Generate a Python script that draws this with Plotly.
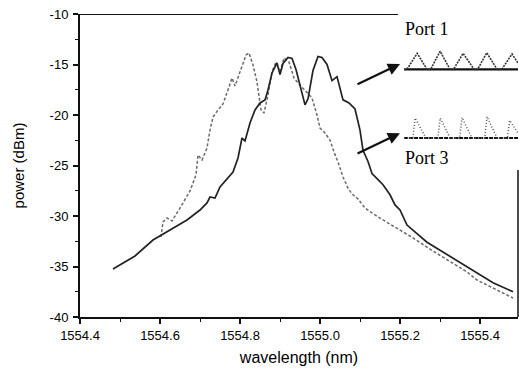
import plotly.graph_objects as go

# Spectrum traced from the two output ports (wavelength in nm, power in dBm)
solid_wl = [1554.4825, 1554.5, 1554.5375, 1554.5825, 1554.625, 1554.6675, 1554.70, 1554.7175,
            1554.725, 1554.7375, 1554.75, 1554.7825, 1554.795, 1554.805, 1554.8125, 1554.825,
            1554.8375, 1554.85, 1554.8625, 1554.87, 1554.88, 1554.8925, 1554.90, 1554.9075,
            1554.92, 1554.93, 1554.94, 1554.9525, 1554.9625, 1554.97, 1554.9825, 1554.995,
            1555.005, 1555.0175, 1555.03, 1555.0425, 1555.05, 1555.0575, 1555.0725, 1555.0875,
            1555.1, 1555.1075, 1555.12, 1555.13, 1555.145, 1555.1575, 1555.175, 1555.1875,
            1555.20, 1555.2175, 1555.2675, 1555.35, 1555.4325, 1555.4825]
solid_dbm = [-35.25, -34.85, -33.96, -32.38, -31.39, -30.40, -29.41, -28.71,
             -28.12, -28.22, -27.13, -25.64, -24.26, -22.28, -22.57, -20.79,
             -19.50, -18.81, -18.51, -17.52, -15.84, -14.85, -16.0, -14.9,
             -14.3, -14.4, -15.5, -17.3, -19.0, -18.4, -15.6, -14.2,
             -14.3, -15.0, -16.6, -16.2, -17.3, -18.5, -18.8, -19.4,
             -21.5, -23.5, -24.6, -25.8, -26.4, -26.9, -27.9, -28.9,
             -29.4, -30.9, -32.6, -34.6, -36.6, -37.5]

dash_wl = [1554.6025, 1554.6075, 1554.6175, 1554.63, 1554.65, 1554.675, 1554.69, 1554.695,
           1554.705, 1554.7175, 1554.725, 1554.7325, 1554.745, 1554.7575, 1554.77, 1554.78,
           1554.7875, 1554.795, 1554.805, 1554.815, 1554.8225, 1554.8325, 1554.8425, 1554.8475,
           1554.8525, 1554.86, 1554.87, 1554.88, 1554.89, 1554.90, 1554.91, 1554.9225,
           1554.935, 1554.95, 1554.965, 1554.98, 1554.9925, 1555.00, 1555.0125, 1555.025,
           1555.035, 1555.045, 1555.0575, 1555.07, 1555.08, 1555.095, 1555.1125, 1555.1375,
           1555.1825, 1555.225, 1555.2825, 1555.3675, 1555.3925, 1555.45, 1555.4825]
dash_dbm = [-32.08, -30.59, -30.20, -30.50, -29.21, -27.52, -25.94, -23.96,
            -24.46, -23.27, -21.49, -20.20, -19.50, -18.91, -17.52, -16.34,
            -17.13, -16.24, -15.15, -14.06, -13.86, -15.05, -16.73, -18.12,
            -19.50, -19.80, -18.02, -15.74, -14.75, -15.74, -14.36, -14.75,
            -16.34, -17.03, -17.72, -18.32, -20.00, -21.29, -21.78, -22.48,
            -23.66, -24.65, -26.14, -27.23, -27.82, -28.32, -29.21, -29.90,
            -30.99, -31.98, -33.47, -35.54, -36.34, -37.52, -38.12]

# Axis ticks
x_ticks = [1554.4, 1554.6, 1554.8, 1555.0, 1555.2, 1555.4]
x_tick_labels = ["1554.4", "1554.6", "1554.8", "1555.0", "1555.2", "1555.4"]
y_ticks = [-40, -35, -30, -25, -20, -15, -10]
y_tick_labels = ["-40", "-35", "-30", "-25", "-20", "-15", "-10"]

# Inset pulse trains (time in periods, normalised amplitude)
port1_t = [0, 0.12, 0.57, 1.0, 1.15, 1.57, 2.0, 2.15, 2.57, 3.05, 3.2, 3.6, 4.05, 4.25, 4.7, 4.96]
port1_amp = [0, 0, 0.75, 0, 0, 0.85, 0, 0, 0.75, 0, 0, 0.78, 0, 0, 0.72, 0.3]
port3_t = [0, 0.38, 0.48, 0.95, 1.47, 1.57, 2.0, 2.42, 2.52, 2.95, 3.51, 3.61, 4.05, 4.5, 4.6, 4.96]
port3_amp = [0, 0, 0.8, 0, 0, 0.8, 0, 0, 0.82, 0, 0, 0.85, 0, 0, 0.7, 0.2]
baseline_t = [0, 4.96]
baseline_amp = [0, 0]

fig = go.Figure()

fig.add_trace(go.Scatter(x=dash_wl, y=dash_dbm, mode="lines",
                         line=dict(color="#6a6a6a", width=1.5, dash="3px,2px"),
                         showlegend=False))
fig.add_trace(go.Scatter(x=solid_wl, y=solid_dbm, mode="lines",
                         line=dict(color="#222", width=1.7),
                         showlegend=False))

# Inset: port 1
fig.add_trace(go.Scatter(x=baseline_t, y=baseline_amp, xaxis="x2", yaxis="y2", mode="lines",
                         line=dict(color="#111", width=2.2), showlegend=False))
fig.add_trace(go.Scatter(x=port1_t, y=port1_amp, xaxis="x2", yaxis="y2", mode="lines",
                         line=dict(color="#333", width=1.6, dash="2px,1px"), showlegend=False))
# Inset: port 3
fig.add_trace(go.Scatter(x=baseline_t, y=baseline_amp, xaxis="x3", yaxis="y3", mode="lines",
                         line=dict(color="#111", width=2.2, dash="4px,1px"), showlegend=False))
fig.add_trace(go.Scatter(x=port3_t, y=port3_amp, xaxis="x3", yaxis="y3", mode="lines",
                         line=dict(color="#555", width=1.5, dash="1px,2px"), showlegend=False))

axis_font = dict(family="Liberation Sans, Arial, sans-serif", size=13, color="#000")
title_family = "Liberation Sans, Arial, sans-serif"

fig.update_layout(
    width=519, height=370,
    margin=dict(l=80, r=1, t=14, b=53),
    paper_bgcolor="white", plot_bgcolor="white",
    xaxis=dict(
        range=[1554.4, 1555.495], tickmode="array", tickvals=x_ticks, ticktext=x_tick_labels,
        ticks="outside", ticklen=5, tickwidth=1.5, tickcolor="#111", ticklabelstandoff=0,
        minor=dict(tickmode="linear", tick0=1554.4, dtick=0.1, ticks="outside", ticklen=3,
                   tickwidth=1.2, tickcolor="#111"),
        showline=True, linecolor="#111", linewidth=2, showgrid=False, zeroline=False,
        tickfont=axis_font,
        title=dict(text="wavelength (nm)", font=dict(family=title_family, size=16, color="#000"),
                   standoff=10),
    ),
    yaxis=dict(
        range=[-40, -10], tickmode="array", tickvals=y_ticks, ticktext=y_tick_labels,
        ticks="outside", ticklen=5, tickwidth=1.5, tickcolor="#111", ticklabelstandoff=2,
        minor=dict(tickmode="linear", tick0=-40, dtick=2.5, ticks="outside", ticklen=3,
                   tickwidth=1.2, tickcolor="#111"),
        showline=True, linecolor="#111", linewidth=2, showgrid=False, zeroline=False,
        tickfont=axis_font,
        title=dict(text="power (dBm)", font=dict(family=title_family, size=15, color="#000"),
                   standoff=21),
    ),
    xaxis2=dict(domain=[0.74, 1.0], range=[0, 4.96], anchor="y2", visible=False),
    yaxis2=dict(domain=[0.8086, 0.8878], range=[-0.12, 1], anchor="x2", visible=False),
    xaxis3=dict(domain=[0.74, 1.0], range=[0, 4.96], anchor="y3", visible=False),
    yaxis3=dict(domain=[0.5809, 0.6733], range=[-0.12, 1], anchor="x3", visible=False),
    showlegend=False,
)

# Partial top and right frame (the inset occupies the upper right corner)
fig.add_shape(type="line", xref="x", yref="y", x0=1554.4, x1=1555.195, y0=-10, y1=-10,
              line=dict(color="#111", width=2))
fig.add_shape(type="line", xref="paper", yref="y", x0=1.0, x1=1.0, y0=-40, y1=-25.45,
              line=dict(color="#111", width=1.5))

label_font = dict(family="Liberation Serif, Times New Roman, serif", size=18, color="#000")
fig.add_annotation(x=1555.2675, y=-11.5, xref="x", yref="y", text="Port 1",
                   showarrow=False, font=label_font)
fig.add_annotation(x=1555.2675, y=-24.3, xref="x", yref="y", text="Port 3",
                   showarrow=False, font=label_font)

# Arrows pointing from the spectrum to each pulse train
fig.add_annotation(x=1555.2, y=-14.95, xref="x", yref="y", ax=-44, ay=21,
                   axref="pixel", ayref="pixel", text="", showarrow=True,
                   arrowhead=2, arrowsize=1.1, arrowwidth=2.2, arrowcolor="#111")
fig.add_annotation(x=1555.2, y=-21.8, xref="x", yref="y", ax=-44, ay=21,
                   axref="pixel", ayref="pixel", text="", showarrow=True,
                   arrowhead=2, arrowsize=1.1, arrowwidth=2.2, arrowcolor="#111")

fig.write_html("out.html")
